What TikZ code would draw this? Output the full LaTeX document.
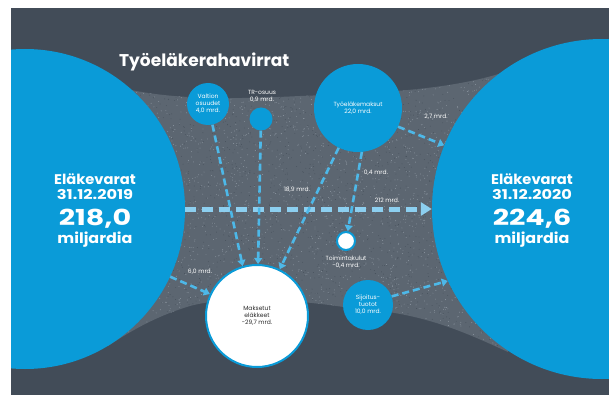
\documentclass[tikz,border=0pt]{standalone}
\usepackage{fontspec}
\usepackage{graphicx}
\setmainfont{Poppins}
\usetikzlibrary{arrows.meta}
\definecolor{bgc}{HTML}{424C58}
\definecolor{texc}{HTML}{5C6671}
\definecolor{dotc}{HTML}{8E98A2}
\definecolor{dotd}{HTML}{48525D}
\definecolor{bluec}{HTML}{0A9BD8}
\definecolor{flowc}{HTML}{4DB8E8}
\definecolor{mainc}{HTML}{8CCFF0}
\definecolor{darktxt}{HTML}{2A2A2A}
\tikzset{
  bigc/.style={circle, fill=bluec, inner sep=0pt},
  smallc/.style={circle, fill=bluec, inner sep=0pt, text=white, align=center, font=\fontsize{6}{7}\selectfont},
  whitec/.style={circle, fill=white, draw=bluec, line width=2pt, inner sep=0pt},
  lbl/.style={text=white, align=center, inner sep=0pt, font=\fontsize{6}{7}\selectfont},
  bt/.style={text=white, anchor=base, inner sep=0pt},
  flow/.style={draw=flowc, line width=2.6pt, dash pattern=on 7pt off 4pt, -{Triangle[length=6pt,width=8pt]}},
  mainflow/.style={draw=mainc, line width=5pt, dash pattern=on 11pt off 6pt, -{Triangle[length=11pt,width=13pt]}}
}
\begin{document}
\begin{tikzpicture}[x=1pt,y=-1pt]
\useasboundingbox (0,0) rectangle (609,395);
\fill[white] (0,0) rectangle (609,395);
\begin{scope}
\clip (11,8) rectangle (609,395);
\fill[bgc] (11,8) rectangle (609,395);
% textured flow band
\def\band{(95,80) .. controls (150,100) and (220,100) .. (300,96) .. controls (380,93) and (450,90) .. (505,72) -- (520,200) -- (508,352) .. controls (460,330) and (420,312) .. (350,308) .. controls (300,300) and (230,295) .. (190,306) .. controls (160,315) and (135,328) .. (108,346) -- (150,200) -- cycle}
\fill[texc] \band;
\begin{scope}
\clip \band;
\pgfmathsetseed{7}
\foreach \i in {1,...,3000}{\fill[dotc] ({100+410*rnd},{70+290*rnd}) circle (0.45);}
\foreach \i in {1,...,2000}{\fill[dotd] ({100+410*rnd},{70+290*rnd}) circle (0.45);}
\end{scope}
% big circles
\node[bigc, minimum size=320] (L) at (25,209) {};
\node[bigc, minimum size=340] (R) at (602,209) {};
\end{scope}
% title
\node[text=white, anchor=base west, inner sep=0pt, font=\fontsize{17}{17}\selectfont\bfseries] (title) at (119,67) {Työeläkerahavirrat};
% big circle texts
\node[bt, font=\fontsize{14}{14}\selectfont\bfseries] (L1) at (95,185) {\scalebox{1.05}[1]{Eläkevarat}};
\node[bt, font=\fontsize{13.5}{14}\selectfont\bfseries] (L2) at (95,199) {\scalebox{1.2}[1]{31.12.2019}};
\node[bt, font=\fontsize{22}{22}\selectfont\bfseries] (L3) at (95,225) {\scalebox{1.3}[1]{218,0}};
\node[bt, font=\fontsize{14.5}{15}\selectfont\bfseries] (L4) at (95,243) {\scalebox{1.1}[1]{miljardia}};
\node[bt, font=\fontsize{14}{14}\selectfont\bfseries] (R1) at (532,185) {\scalebox{1.05}[1]{Eläkevarat}};
\node[bt, font=\fontsize{13.5}{14}\selectfont\bfseries] (R2) at (532,199) {\scalebox{1.2}[1]{31.12.2020}};
\node[bt, font=\fontsize{22}{22}\selectfont\bfseries] (R3) at (532,225) {\scalebox{1.3}[1]{224,6}};
\node[bt, font=\fontsize{14.5}{15}\selectfont\bfseries] (R4) at (532,243) {\scalebox{1.1}[1]{miljardia}};
% small circles
\node[smallc, minimum size=42] (V) at (208,104) {Valtion\\osuudet\\4,0 mrd.};
\node[smallc, minimum size=23] (T) at (261,119) {};
\node[lbl] (Tl) at (262,96) {TR-osuus\\0,9 mrd.};
\node[smallc, minimum size=88] (K) at (358,108) {Työeläkemaksut\\22,0 mrd.};
\node[whitec, minimum size=18] (Tk) at (346,241) {};
\node[lbl] (Tkl) at (346,262) {Toimintakulut\\-0,4 mrd.};
\node[whitec, minimum size=102, text=darktxt, align=center, font=\fontsize{6}{7}\selectfont] (M) at (257,316) {Maksetut\\eläkkeet\\-29,7 mrd.};
\node[smallc, minimum size=50] (S) at (368,305) {Sijoitus-\\tuotot\\10,0 mrd.};
% flows
\draw[mainflow] (L.0) -- (R.180);
\draw[flow] (V) -- (M.106);
\draw[flow] (T) -- (M);
\draw[flow] (K) -- (M);
\draw[flow] (K.-85) -- (Tk);
\draw[flow] (K.-25) -- (R.158);
\draw[flow] (L.-25) -- (M.155);
\draw[flow] (S.20) -- (R.205);
% flow labels
\node[lbl] (f1) at (297,190) {18,9 mrd.};
\node[lbl] (f2) at (387,200) {212 mrd.};
\node[lbl] (f3) at (376,173) {0,4 mrd.};
\node[lbl] (f4) at (200,272) {6,0 mrd.};
\node[lbl] (f5) at (436,117) {2,7 mrd.};
\end{tikzpicture}
\end{document}
